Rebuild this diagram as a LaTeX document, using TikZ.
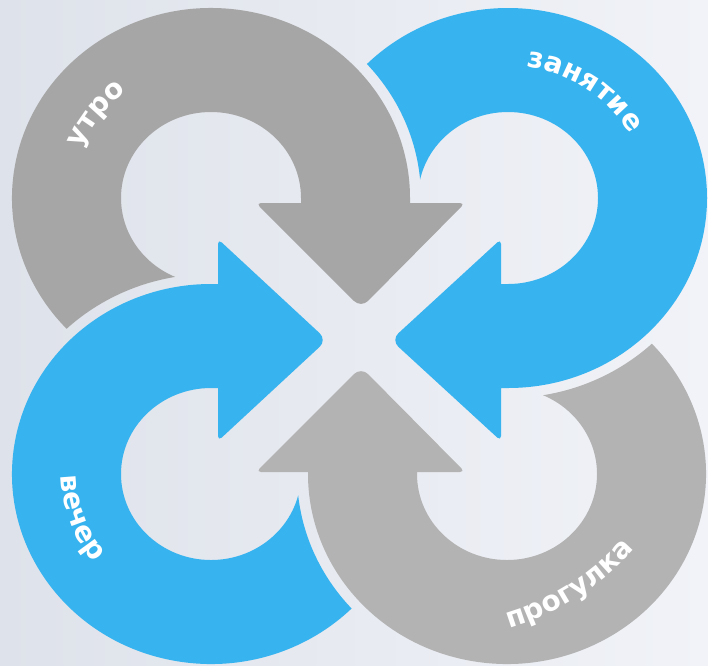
\documentclass[tikz,border=0pt]{standalone}
\usepackage{fontspec}
\newfontfamily\lblfont{DejaVu Sans}
\usetikzlibrary{calc,decorations.text}
\definecolor{bgL}{RGB}{222,226,234}
\definecolor{bgR}{RGB}{241,243,248}
\definecolor{grayA}{RGB}{166,166,166}
\definecolor{grayB}{RGB}{179,179,179}
\definecolor{skyblue}{RGB}{55,179,239}
\newcommand\lblfmt{\lblfont\bfseries\fontsize{28}{34}\selectfont}
\tikzset{
  ringlabel/.style={decorate, decoration={text along path, text align=center,
      text color=white, text={|\lblfmt|#1}}}
}
\begin{document}
\begin{tikzpicture}[x=1pt,y=-1pt]
\useasboundingbox (0,0) rectangle (708,665);
\shade[left color=bgL, right color=bgR] (0,0) rectangle (708,665);
\coordinate (tl) at (211,198);
\coordinate (tr) at (508,198);
\coordinate (bl) at (211,474);
\coordinate (br) at (507,474);
\coordinate (brtext) at (434,372);

% top-left grey arrow (cut by the bottom-left ring)
\begin{scope}
\clip (0,0) -- (0,665) -- (708,665) -- (708,0) -- cycle
  ($(bl)+(210,0)$) arc[start angle=0,end angle=360,x radius=210,y radius=200] -- cycle;
\fill[grayA] ($(tl)+(100:199 and 190)$)
  arc[start angle=100,end angle=360,x radius=199,y radius=190]
  -- (410,203) [rounded corners=5pt] -- (465,203) [rounded corners=10pt] -- (361,308)
  [rounded corners=5pt] -- (256,203) [sharp corners] -- (301,203) -- (301,198)
  arc[start angle=360,end angle=100,x radius=90,y radius=86] -- cycle;
\end{scope}

% top-right blue arrow (cut by the top-left ring)
\begin{scope}
\clip (0,0) -- (0,665) -- (708,665) -- (708,0) -- cycle
  ($(tl)+(210,0)$) arc[start angle=0,end angle=360,x radius=210,y radius=200] -- cycle;
\fill[skyblue] ($(tr)+(180:199 and 190)$)
  arc[start angle=180,end angle=450,x radius=199,y radius=190]
  -- (501,388) [rounded corners=5pt] -- (501,441) [rounded corners=10pt] -- (391,340)
  [rounded corners=5pt] -- (501,239) [sharp corners] -- (501,284) -- (508,284)
  arc[start angle=450,end angle=180,x radius=90,y radius=86] -- cycle;
\end{scope}

% bottom-right grey arrow (cut by the top-right ring)
\begin{scope}
\clip (0,0) -- (0,665) -- (708,665) -- (708,0) -- cycle
  ($(tr)+(210,0)$) arc[start angle=0,end angle=360,x radius=210,y radius=200] -- cycle;
\fill[grayB] ($(br)+(280:199 and 190)$)
  arc[start angle=280,end angle=540,x radius=199,y radius=190]
  -- (308,472) [rounded corners=5pt] -- (256,472) [rounded corners=10pt] -- (361,367)
  [rounded corners=5pt] -- (465,472) [sharp corners] -- (417,472) -- (417,474)
  arc[start angle=540,end angle=280,x radius=90,y radius=86] -- cycle;
\end{scope}

% bottom-left blue arrow (cut by the bottom-right ring)
\begin{scope}
\clip (0,0) -- (0,665) -- (708,665) -- (708,0) -- cycle
  ($(br)+(210,0)$) arc[start angle=0,end angle=360,x radius=210,y radius=200] -- cycle;
\fill[skyblue] ($(bl)+(10:199 and 190)$)
  arc[start angle=10,end angle=270,x radius=199,y radius=190]
  -- (218,284) [rounded corners=5pt] -- (218,239) [rounded corners=10pt] -- (327,340)
  [rounded corners=5pt] -- (218,441) [sharp corners] -- (218,388) -- (211,388)
  arc[start angle=270,end angle=10,x radius=90,y radius=86] -- cycle;
\end{scope}

% labels
\path[ringlabel={утро}] ($(tl)+(156.5:140 and 133)$)
  arc[start angle=156.5,end angle=276.5,x radius=140,y radius=133];
\path[ringlabel={занятие}] ($(tr)+(245:139 and 132)$)
  arc[start angle=245,end angle=365,x radius=139,y radius=132];
\path[ringlabel={вечер}] ($(bl)+(221:150 and 142)$)
  arc[start angle=221,end angle=101,x radius=150,y radius=142];
\path[ringlabel={прогулка}] ($(brtext)+(93:267)$)
  arc[start angle=93,end angle=22,radius=267];
\end{tikzpicture}
\end{document}
